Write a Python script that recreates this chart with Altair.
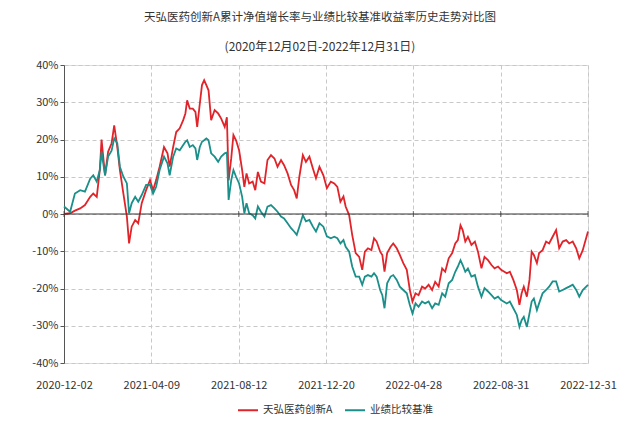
import altair as alt
import pandas as pd

FONT = "Noto Sans CJK SC"

idx = [0, 1.4, 2.5, 3.7, 4.8, 6.0, 6.7, 7.5, 8.2, 8.6, 9.4, 10.1, 10.9, 11.5, 12.2, 12.8,
       13.6, 14.4, 14.9, 15.5, 16.3, 17.0, 17.8, 18.8, 19.7, 20.4, 21.1, 21.9, 22.9, 23.7,
       24.2, 25.0, 25.7, 26.5, 27.3, 27.8, 28.2, 28.8, 29.5, 30.1, 30.5, 31.1, 31.6, 32.1,
       32.6, 33.1, 33.7, 34.5, 35.3, 36.0, 36.8, 37.3, 37.7, 38.3, 38.8, 39.4, 40.1, 40.8,
       41.3, 41.8, 42.4, 43.2, 43.8, 44.4, 45.1, 45.9, 46.6, 47.4, 48.2, 48.9, 49.7, 50.4,
       51.2, 52.0, 52.7, 53.3, 53.9, 54.7, 55.4, 56.2, 57.0, 57.7, 58.5, 59.4, 60.2, 61.1,
       61.9, 62.6, 63.3, 64.0, 64.5, 65.3, 66.0, 66.8, 67.6, 68.3, 68.9, 69.6, 70.4, 71.0,
       71.6, 72.4, 72.9, 73.4, 74.0, 74.8, 75.4, 76.2, 76.9, 77.7, 78.5, 79.2, 79.8, 80.5,
       81.2, 82.0, 82.7, 83.5, 84.3, 85.0, 85.8, 86.6, 87.3, 88.1, 88.9, 89.6, 90.2, 90.8,
       91.3, 91.9, 92.5, 93.3, 94.1, 94.8, 95.6, 96.3, 97.1, 97.9, 98.6, 99.4, 100.1, 101.4,
       102.1, 102.9, 103.7, 104.3, 104.8, 105.3, 106.0, 106.6, 107.1, 107.6, 108.3, 108.8,
       109.6, 110.4, 111.1, 111.9, 112.7, 113.4, 114.2, 115.0, 115.7, 116.5, 117.3, 118.0,
       118.8, 120.0]

fund = [0.0, 0.2, 0.9, 1.5, 2.4, 4.6, 5.5, 4.6, 11.8, 20.0, 10.4, 16.7, 19.0, 23.8, 18.0, 11.8,
        5.5, -0.7, -7.9, -3.4, -1.6, -2.5, 2.9, 6.4, 9.1, 6.4, 9.1, 12.7, 18.0, 16.3,
        12.7, 18.0, 22.0, 23.0, 25.2, 27.0, 30.5, 28.3, 28.3, 27.4, 23.4, 29.6, 34.6, 35.9,
        34.6, 33.2, 25.2, 27.9, 27.0, 25.6, 23.4, 26.0, 9.0, 15.0, 21.2, 19.8, 17.1, 11.8,
        7.3, 10.9, 8.2, 8.7, 6.4, 11.3, 8.7, 8.2, 14.5, 15.8, 14.9, 12.7, 14.5, 13.1,
        10.9, 7.8, 6.4, 4.2, 10.0, 15.8, 14.0, 15.4, 12.2, 9.6, 12.7, 10.4, 6.9, 8.7,
        8.2, 7.3, 3.3, 4.7, 2.0, -0.3, -5.6, -10.5, -11.5, -15.0, -10.1, -9.2, -9.7, -6.5,
        -7.4, -10.1, -11.0, -15.5, -10.5, -8.8, -7.9, -9.2, -11.0, -13.2, -15.0, -20.4, -23.5, -21.3,
        -21.8, -19.5, -20.0, -19.0, -20.4, -18.2, -19.5, -14.6, -15.5, -11.9, -10.5, -7.9, -7.0, -3.0,
        -4.3, -7.4, -6.1, -8.3, -7.4, -10.1, -14.6, -11.5, -12.4, -13.7, -14.6, -14.1, -15.0, -15.9,
        -15.5, -17.7, -20.4, -24.4, -21.3, -19.5, -22.2, -17.7, -10.1, -11.0, -13.2, -10.5,
        -9.7, -7.4, -7.9, -6.1, -4.3, -9.2, -7.4, -7.0, -7.9, -7.4, -9.2, -11.9,
        -9.7, -4.7]

bench = [2.0, 0.6, 5.5, 6.4, 6.0, 9.5, 10.4, 8.7, 11.8, 16.7, 10.4, 15.4, 17.0, 20.3, 19.0, 12.7,
         10.0, 8.2, 0.2, 2.9, 4.6, 3.3, 5.1, 7.8, 7.8, 5.5, 7.3, 11.8, 15.4, 13.6,
         10.4, 15.4, 17.6, 17.1, 18.5, 19.4, 19.8, 18.0, 18.5, 17.6, 14.5, 18.0, 19.4, 19.8,
         20.3, 19.8, 16.3, 15.4, 14.0, 15.4, 16.3, 16.5, 3.8, 9.1, 11.8, 10.0, 8.2, 4.6,
         0.2, 2.9, 0.2, -0.3, -1.2, 2.0, 0.6, -0.7, 2.0, 2.4, 1.5, 0.6, -0.7, -1.2,
         -2.5, -3.8, -4.7, -5.6, -3.4, -0.3, -2.0, -1.6, -3.4, -4.7, -2.5, -3.4, -6.0, -6.5,
         -6.1, -6.5, -7.9, -7.0, -8.8, -10.1, -14.1, -16.8, -16.8, -19.0, -16.8, -16.4, -16.8, -15.9,
         -16.8, -20.4, -21.8, -25.3, -18.6, -16.8, -16.4, -17.7, -19.5, -20.4, -21.3, -24.4, -26.7, -24.0,
         -24.9, -23.5, -24.0, -23.5, -25.3, -24.0, -24.4, -21.3, -22.2, -18.6, -17.7, -15.5, -14.1, -12.4,
         -13.7, -15.5, -14.6, -16.8, -16.4, -19.5, -22.2, -19.9, -20.8, -21.8, -22.7, -22.2, -23.1, -24.0,
         -23.5, -25.3, -27.1, -30.3, -28.5, -27.6, -30.3, -26.7, -23.5, -22.7, -25.8, -24.0,
         -21.3, -20.4, -19.5, -18.1, -18.1, -20.8, -20.4, -19.9, -19.5, -19.0, -20.4, -22.2,
         -20.4, -19.0]

tick_pos = [0, 20, 40, 60, 80, 100, 120]
tick_labels = ["2020-12-02", "2021-04-09", "2021-08-12", "2021-12-20",
               "2022-04-28", "2022-08-31", "2022-12-31"]
y_ticks = [-40, -30, -20, -10, 0, 10, 20, 30, 40]
series_names = ["天弘医药创新A", "业绩比较基准"]
colors = ["#e0242a", "#1b8f8a"]

title_text = "天弘医药创新A累计净值增长率与业绩比较基准收益率历史走势对比图"
subtitle_text = "(2020年12月02日-2022年12月31日)"

rows = []
for i, a, b in zip(idx, fund, bench):
    rows.append({"idx": i, "value": a, "series": series_names[0]})
    rows.append({"idx": i, "value": b, "series": series_names[1]})
df = pd.DataFrame(rows)

label_expr = "[" + ",".join(f"'{l}'" for l in tick_labels) + "][round(datum.value/20)]"

x_enc = alt.X("idx:Q",
              scale=alt.Scale(domain=[0, 120], nice=False, zero=False),
              axis=alt.Axis(values=tick_pos, labelExpr=label_expr, title=None,
                            grid=True, gridDash=[4, 3], gridColor="#c8c8c8",
                            domain=False, ticks=False, labelPadding=16,
                            labelFontSize=11, labelColor="#333", labelFont=FONT,
                            labelFlush=False, labelOverlap=False))
y_enc = alt.Y("value:Q",
              scale=alt.Scale(domain=[-40, 40], nice=False),
              axis=alt.Axis(values=y_ticks, labelExpr="datum.value + '%'", title=None,
                            grid=True, gridDash=[4, 3], gridColor="#c8c8c8",
                            domainColor="#555", tickColor="#555", tickSize=4,
                            labelPadding=2, labelFontSize=11, labelColor="#333",
                            labelFont=FONT, labelOverlap=False))
color_enc = alt.Color("series:N",
                      scale=alt.Scale(domain=series_names, range=colors),
                      legend=alt.Legend(orient="none", legendX=173, legendY=334,
                                        direction="horizontal", title=None,
                                        symbolType="stroke", symbolSize=400,
                                        symbolStrokeWidth=2, labelFontSize=10.5,
                                        labelFont=FONT, labelColor="#333",
                                        labelOffset=4, columnPadding=8))

base = alt.Chart(df)
red_line = base.transform_filter(alt.datum.series == series_names[0]).mark_line(
    strokeWidth=1.8).encode(x=x_enc, y=y_enc, color=color_enc)
teal_line = base.transform_filter(alt.datum.series == series_names[1]).mark_line(
    strokeWidth=1.8).encode(x=x_enc, y=y_enc, color=color_enc)

zero_rule = alt.Chart(pd.DataFrame({"value": [0]})).mark_rule(
    color="#333", strokeWidth=1).encode(y=y_enc)
zero_ticks = alt.Chart(pd.DataFrame({"idx": tick_pos, "value": [0] * len(tick_pos)})).mark_tick(
    orient="vertical", size=6, thickness=1, color="#333").encode(x=x_enc, y=y_enc)

chart = alt.layer(red_line, teal_line, zero_rule, zero_ticks).properties(
    width=524, height=298,
    autosize=alt.AutoSizeParams(type="none"),
    padding={"left": 56, "top": 57, "right": 44, "bottom": 57},
    title=alt.TitleParams(text=title_text, subtitle=subtitle_text, anchor="middle",
                          dx=-6, fontSize=11.5, subtitleFontSize=12, font=FONT,
                          subtitleFont=FONT, color="#333", subtitleColor="#333",
                          fontWeight="normal", offset=6, subtitlePadding=19),
).configure_view(stroke=None).configure(background="white")

chart.save("out.html", embed_options={"renderer": "svg", "actions": False})
